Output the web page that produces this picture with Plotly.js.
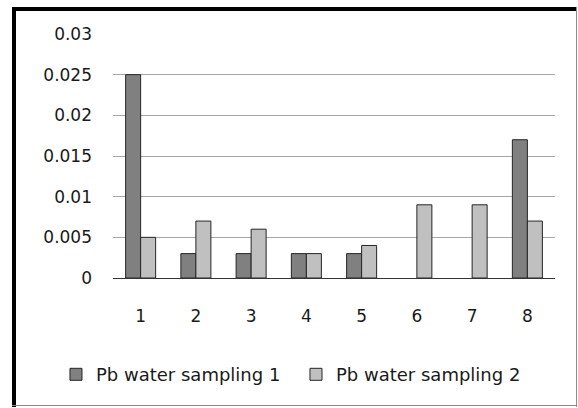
<!DOCTYPE html>
<html>
<head>
<meta charset="utf-8">
<script src="https://cdn.plot.ly/plotly-3.0.1.min.js"></script>
<style>
  html, body { margin: 0; padding: 0; background: #ffffff; }
  #chart { width: 578px; height: 408px; }
</style>
</head>
<body>
<div id="chart"></div>
<script>
const categories = ["1", "2", "3", "4", "5", "6", "7", "8"];
const seriesNames = ["Pb water sampling 1", "Pb water sampling 2"];
const sampling1 = [0.025, 0.003, 0.003, 0.003, 0.003, 0, 0, 0.017];
const sampling2 = [0.005, 0.007, 0.006, 0.003, 0.004, 0.009, 0.009, 0.007];
const yTickVals = [0, 0.005, 0.01, 0.015, 0.02, 0.025, 0.03];
const yTickText = ["0", "0.005", "0.01", "0.015", "0.02", "0.025", "0.03"];

const outline = vals => vals.map(v => (v > 0 ? 1 : 0));
const textFont = { family: "DejaVu Sans, sans-serif", size: 17, color: "#1a1a1a" };

const W = 578, H = 408, M = { l: 113, r: 23, t: 34, b: 130 };
const pw = W - M.l - M.r, ph = H - M.t - M.b;
const px = x => (x - M.l) / pw;
const py = y => (H - M.b - y) / ph;

const frameShapes = [
  { type: "line", xref: "paper", yref: "paper", x0: px(14), x1: px(14), y0: py(7), y1: py(407),
    line: { color: "#000000", width: 4 } },
  { type: "line", xref: "paper", yref: "paper", x0: px(12), x1: px(577), y0: py(9), y1: py(9),
    line: { color: "#000000", width: 4 } },
  { type: "line", xref: "paper", yref: "paper", x0: px(576.5), x1: px(576.5), y0: py(7), y1: py(407),
    line: { color: "#8a8a8a", width: 1 } },
  { type: "line", xref: "paper", yref: "paper", x0: px(12), x1: px(577), y0: py(405.5), y1: py(405.5),
    line: { color: "#8a8a8a", width: 1 } }
];

const traces = [
  { type: "bar", name: seriesNames[0], x: categories, y: sampling1,
    marker: { color: "#808080", line: { color: "#262626", width: outline(sampling1) } } },
  { type: "bar", name: seriesNames[1], x: categories, y: sampling2,
    marker: { color: "#c0c0c0", line: { color: "#262626", width: outline(sampling2) } } }
];

const layout = {
  width: W, height: H,
  margin: M,
  paper_bgcolor: "#ffffff",
  plot_bgcolor: "#ffffff",
  font: textFont,
  barmode: "group",
  bargap: 0.457,
  bargroupgap: 0,
  showlegend: true,
  legend: { orientation: "h", x: -0.129, xanchor: "left", y: -0.396, yanchor: "middle",
            entrywidth: 195, entrywidthmode: "pixels",
            font: { family: "DejaVu Sans, sans-serif", size: 18, color: "#1a1a1a" },
            bgcolor: "rgba(0,0,0,0)", traceorder: "normal" },
  shapes: frameShapes,
  xaxis: { type: "category", showgrid: false, zeroline: false,
           showline: true, linecolor: "#333333", linewidth: 1,
           ticks: "", ticklabelstandoff: 23,
           tickfont: textFont, fixedrange: true },
  yaxis: { range: [0, 0.03], tickvals: yTickVals, ticktext: yTickText,
           showgrid: true, gridcolor: "#a6a6a6", gridwidth: 1,
           zeroline: false, showline: false, ticks: "", ticklabelstandoff: 20,
           tickfont: textFont, fixedrange: true }
};

Plotly.newPlot("chart", traces, layout, { displayModeBar: false, staticPlot: true });
</script>
</body>
</html>
